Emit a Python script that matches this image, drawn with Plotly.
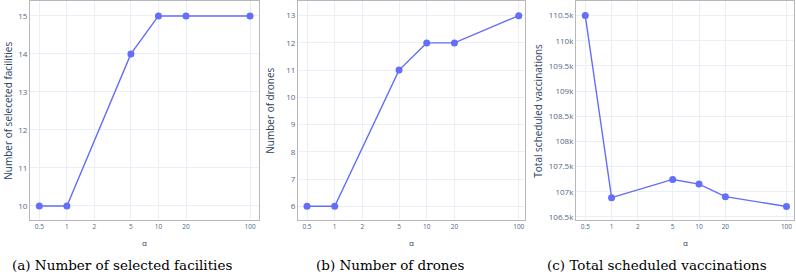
import plotly.graph_objects as go

alpha = [0.5, 1, 5, 10, 20, 100]
facilities = [10, 10, 14, 15, 15, 15]
drones = [6, 6, 11, 12, 12, 13]
vaccinations = [110500, 106882, 107244, 107151, 106902, 106705]

x_tickvals = [0.5, 1, 2, 5, 10, 20, 100]
x_ticktext = ["0.5", "1", "2", "5", "10", "20", "100"]
fac_ticks = [10, 11, 12, 13, 14, 15]
dr_ticks = [6, 7, 8, 9, 10, 11, 12, 13]
vac_ticks = [106500, 107000, 107500, 108000, 108500, 109000, 109500, 110000, 110500]
vac_ticktext = ["106.5k", "107k", "107.5k", "108k", "108.5k", "109k", "109.5k", "110k", "110.5k"]

y_titles = ["Number of seleceted facilities", "Number of drones", "Total scheduled vaccinations"]
captions = ["(a) Number of selected facilities", "(b) Number of drones", "(c) Total scheduled vaccinations"]

W, H = 796, 275
color = "#636efa"
fig = go.Figure()

panels = [
    (facilities, (30, 259), [9.62, 15.38], fac_ticks, [str(v) for v in fac_ticks], [-0.403, 2.098], 8, 121.5),
    (drones, (298, 525), [5.48, 13.52], dr_ticks, [str(v) for v in dr_ticks], [-0.399, 2.068], 270, 390),
    (vaccinations, (576, 794), [106430, 110780], vac_ticks, vac_ticktext, [-0.407, 2.086], 538, 657),
]
top, bottom = 0.5, 221

for i, (vals, (x0, x1), yr, tv, tt, xr, ytx, capx) in enumerate(panels):
    n = "" if i == 0 else str(i + 1)
    fig.add_trace(go.Scatter(x=alpha, y=vals, mode="lines+markers",
                             line=dict(color=color, width=1.4),
                             marker=dict(color=color, size=7),
                             xaxis="x" + n, yaxis="y" + n, showlegend=False))
    ax = dict(domain=[x0 / W, x1 / W], anchor="y" + n, type="log", range=xr,
              tickvals=x_tickvals, ticktext=x_ticktext,
              tickfont=dict(size=6.5, color="#506784", family="Open Sans"),
              gridcolor="#ebf0f8", showline=True, mirror=True, linecolor="#b8b8b8",
              linewidth=1, zeroline=False, ticks="")
    ay = dict(domain=[1 - bottom / H, 1 - top / H], anchor="x" + n, range=yr,
              tickvals=tv, ticktext=tt,
              tickfont=dict(size=8, color="#506784", family="Open Sans"),
              gridcolor="#ebf0f8", showline=True, mirror=True, linecolor="#b8b8b8",
              linewidth=1, zeroline=False, ticks="")
    fig.update_layout({"xaxis" + n: ax, "yaxis" + n: ay})
    fig.add_annotation(x=ytx / W, y=1 - 110.5 / H, xref="paper", yref="paper",
                       text=y_titles[i], textangle=-90, showarrow=False,
                       font=dict(size=10, color="#2a3f5f", family="Open Sans"),
                       xanchor="center", yanchor="middle")
    fig.add_annotation(x=((x0 + x1) / 2) / W, y=1 - 243 / H, xref="paper", yref="paper",
                       text="α", showarrow=False,
                       font=dict(size=8, color="#2a3f5f", family="Open Sans"),
                       xanchor="center", yanchor="middle")
    fig.add_annotation(x=capx / W, y=1 - 266 / H, xref="paper", yref="paper",
                       text=captions[i], showarrow=False,
                       font=dict(size=13.5, color="#000000", family="DejaVu Serif"),
                       xanchor="center", yanchor="middle")

fig.update_layout(width=W, height=H, margin=dict(l=0, r=0, t=0, b=0),
                  paper_bgcolor="white", plot_bgcolor="white")
fig.write_html("out.html", config={"displayModeBar": False},
               post_script="document.body.style.margin='0';document.body.style.overflow='hidden';")
